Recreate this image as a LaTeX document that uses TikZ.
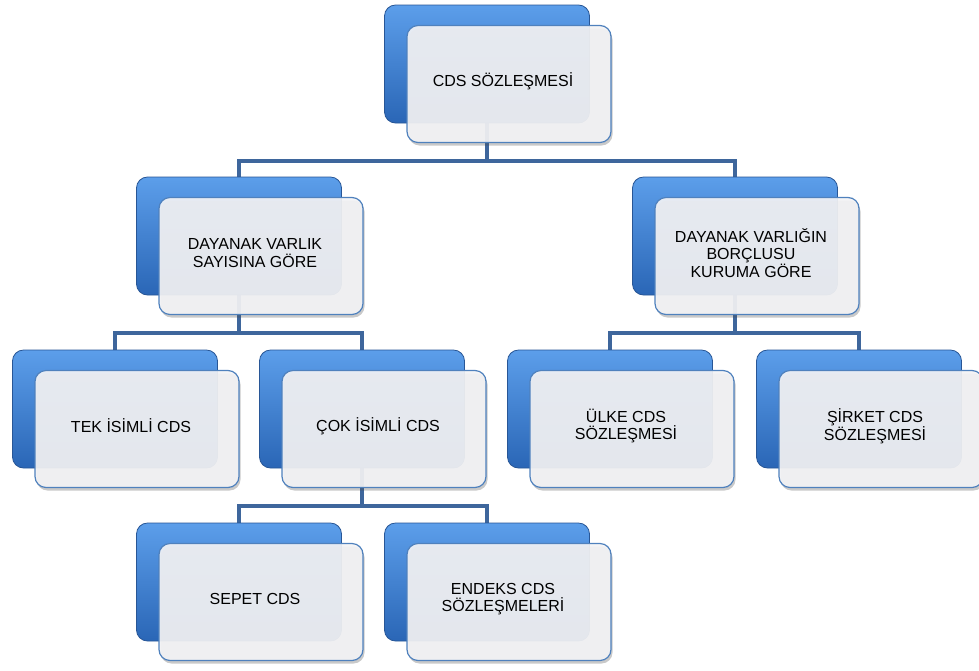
\documentclass[tikz,border=0pt]{standalone}
\usepackage{fontspec}
\setmainfont{Liberation Sans}
\usetikzlibrary{shadows}
\pgfdeclarelayer{background}
\pgfsetlayers{background,main}

\begin{document}
\begin{tikzpicture}[x=1pt,y=-1pt,
  backbox/.style={rounded corners=11pt, minimum width=205pt, minimum height=118pt,
    draw=boxEdge, line width=0.8pt, top color=boxTop, middle color=boxMid, bottom color=boxBottom},
  frontbox/.style={rounded corners=11pt, minimum width=204pt, minimum height=117pt,
    draw=frontEdge, line width=1.2pt, fill=frontFill, fill opacity=0.92,
    drop shadow={shadow xshift=1.5pt, shadow yshift=-3pt, opacity=0.3, fill=black!70}},
  cardtext/.style={align=center, font=\fontsize{16}{17.8}\selectfont},
  link/.style={draw=linkBlue, line width=3.5pt}]
  \definecolor{boxTop}{RGB}{92,158,234}
  \definecolor{boxMid}{RGB}{60,128,210}
  \definecolor{boxBottom}{RGB}{42,102,182}
  \definecolor{boxEdge}{RGB}{40,86,150}
  \definecolor{frontFill}{RGB}{243,243,245}
  \definecolor{frontEdge}{RGB}{79,129,189}
  \definecolor{linkBlue}{RGB}{62,102,156}
  \def\dx{22}
  \def\dy{20}
  \def\drop{37.5}

  \useasboundingbox (0,0) rectangle (979,670);

  %--- boxes: blue back card + translucent front card ---
  \foreach \n/\x/\y/\t in {
      kok/487/64/{CDS SÖZLEŞMESİ},
      sayi/239/236/{DAYANAK VARLIK\\SAYISINA GÖRE},
      borclu/735/236/{DAYANAK VARLIĞIN\\BORÇLUSU\\KURUMA GÖRE},
      tek/115/409/{TEK İSİMLİ CDS},
      cok/362/409/{ÇOK İSİMLİ CDS},
      ulke/610/409/{ÜLKE CDS\\SÖZLEŞMESİ},
      sirket/859/409/{ŞİRKET CDS\\SÖZLEŞMESİ},
      sepet/239/582/{SEPET CDS},
      endeks/487/582/{ENDEKS CDS\\SÖZLEŞMELERİ}} {
    \node[backbox] (\n) at (\x,\y) {};
    \node[frontbox] (\n F) at (\x+\dx,\y+\dy) {};
    \node[cardtext] (\n T) at (\x+\dx-6,\y+\dy-3) {\t};
  }

  %--- connectors (behind the cards) ---
  \begin{pgfonlayer}{background}
    \foreach \p/\c in {kok/sayi, kok/borclu, sayi/tek, sayi/cok,
                       borclu/ulke, borclu/sirket, cok/sepet, cok/endeks} {
      \draw[link] (\p.south) -- ++(0,\drop) -| (\c.north);
    }
  \end{pgfonlayer}

\end{tikzpicture}
\end{document}
